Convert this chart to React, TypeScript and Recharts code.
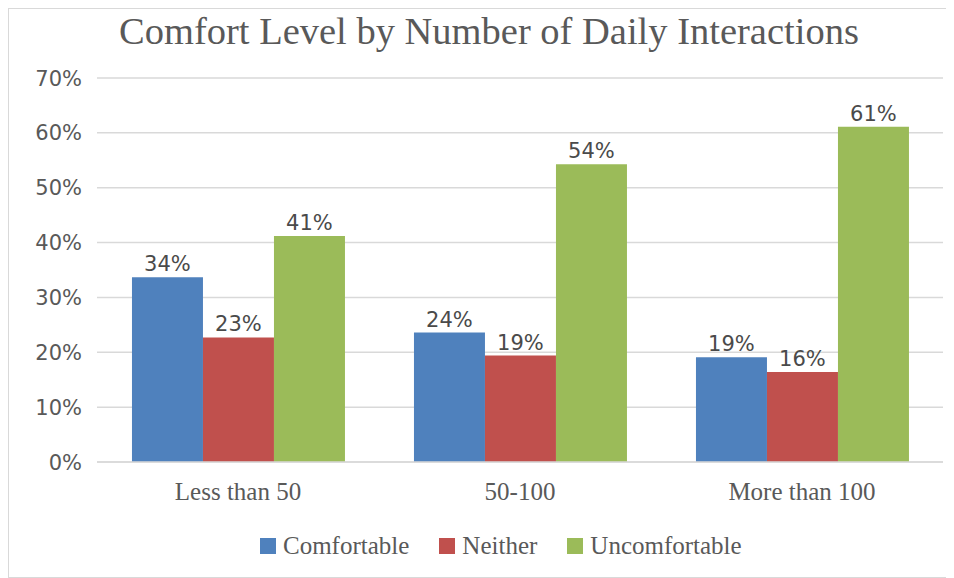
import React from 'react';
import { Bar, BarChart, CartesianGrid, LabelList, Legend, XAxis, YAxis } from 'recharts';

const categories = ['Less than 50', '50-100', 'More than 100'];
const comfortable = [33.7, 23.6, 19.1];
const neither = [22.7, 19.4, 16.4];
const uncomfortable = [41.2, 54.3, 61.1];
const yTicks = [0, 10, 20, 30, 40, 50, 60, 70];

const series = [
  { key: 'comfortable', name: 'Comfortable', color: '#4F81BD' },
  { key: 'neither', name: 'Neither', color: '#C0504D' },
  { key: 'uncomfortable', name: 'Uncomfortable', color: '#9BBB59' },
];

const data = categories.map((name, i) => ({
  name,
  comfortable: comfortable[i],
  neither: neither[i],
  uncomfortable: uncomfortable[i],
}));

const SERIF = '"Liberation Serif", serif';
const SANS = '"DejaVu Sans", sans-serif';
const TEXT = '#595959';

function XTick({ x, y, payload }: any) {
  return (
    <text x={x} y={y + 30} textAnchor="middle" fontFamily={SERIF} fontSize={25} fill={TEXT}>
      {payload.value}
    </text>
  );
}

function YTick({ x, y, payload }: any) {
  return (
    <text x={x - 7} y={y} dy="0.36em" textAnchor="end" fontFamily={SANS} fontSize={21} fill={TEXT}>
      {`${payload.value}%`}
    </text>
  );
}

function LegendContent() {
  return (
    <div style={{ display: 'flex', alignItems: 'center', fontFamily: SERIF, fontSize: 25, color: TEXT }}>
      {series.map((s) => (
        <div key={s.key} style={{ display: 'flex', alignItems: 'center', marginRight: 30 }}>
          <span style={{ width: 16, height: 16, background: s.color, marginRight: 7, display: 'inline-block' }} />
          <span>{s.name}</span>
        </div>
      ))}
    </div>
  );
}

export default function App() {
  return (
    <div
      style={{
        position: 'relative',
        width: 946,
        height: 570,
        boxSizing: 'border-box',
        border: '1px solid #d9d9d9',
        background: '#fff',
      }}
    >
      <div
        style={{
          position: 'absolute',
          top: 0,
          left: 0,
          width: 960,
          textAlign: 'center',
          fontFamily: SERIF,
          fontSize: 38.5,
          color: TEXT,
          lineHeight: '44px',
        }}
      >
        Comfort Level by Number of Daily Interactions
      </div>
      <BarChart
        width={944}
        height={568}
        data={data}
        margin={{ top: 69, right: 10, bottom: 0, left: 0 }}
        barCategoryGap="12.4%"
        barGap={0}
      >
        <CartesianGrid vertical={false} stroke="#d9d9d9" strokeWidth={1.5} />
        <XAxis
          dataKey="name"
          tick={<XTick />}
          tickLine={false}
          axisLine={{ stroke: '#d9d9d9', strokeWidth: 1.5 }}
          height={87}
          interval={0}
        />
        <YAxis
          domain={[0, 70]}
          ticks={yTicks}
          tick={<YTick />}
          tickLine={false}
          axisLine={false}
          width={88}
          tickSize={0}
          tickMargin={8}
        />
        <Legend
          content={<LegendContent />}
          wrapperStyle={{ top: 523, left: 251, width: 'auto' }}
        />
        {series.map((s) => (
          <Bar key={s.key} dataKey={s.key} name={s.name} fill={s.color} isAnimationActive={false}>
            <LabelList
              dataKey={s.key}
              position="top"
              offset={6}
              formatter={(v: any) => `${Math.round(Number(v))}%`}
              style={{ fontFamily: SANS, fontSize: 21, fill: '#4a4a4a' }}
            />
          </Bar>
        ))}
      </BarChart>
    </div>
  );
}
